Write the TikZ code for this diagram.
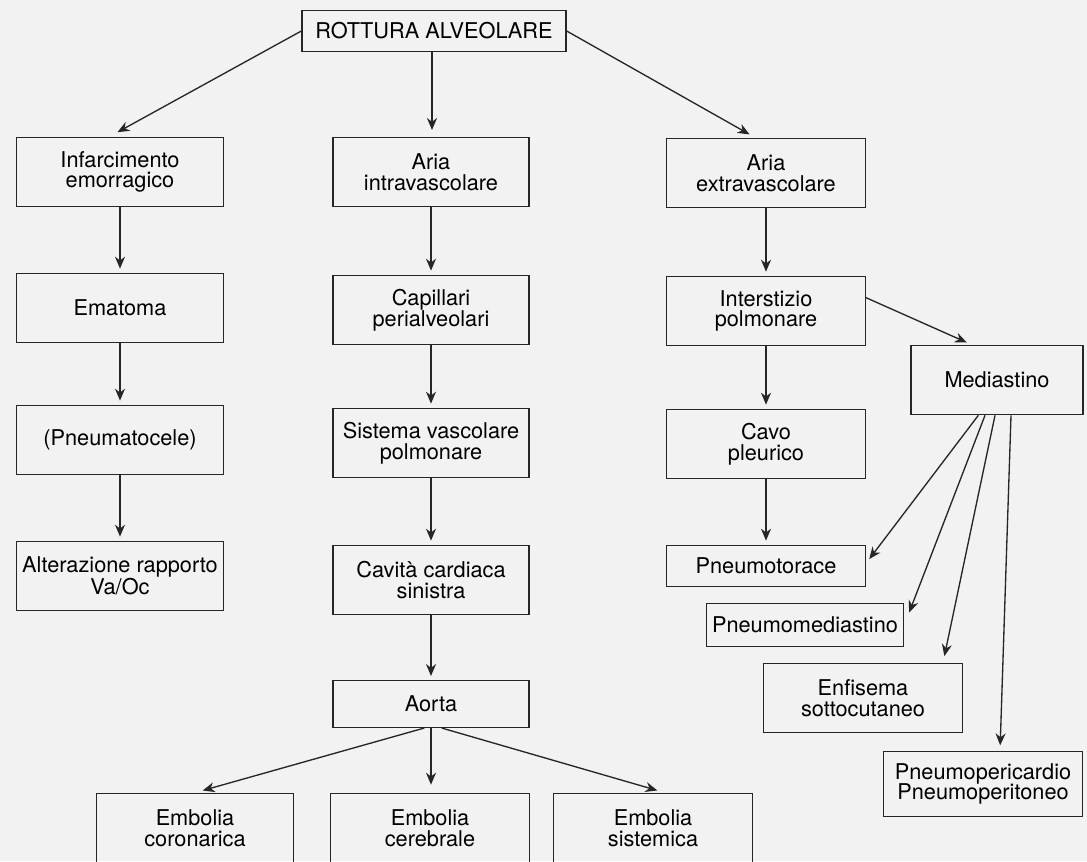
\documentclass[tikz,border=0pt]{standalone}
\usepackage{fontspec}
\setmainfont{TeX Gyre Heros}
\usetikzlibrary{arrows.meta,positioning}

\tikzset{
	box/.style={draw=black!85, line width=1pt, align=center, inner sep=2pt,
		minimum width=147pt, minimum height=52pt, font=\fontsize{16.3}{15.5}\selectfont},
	link/.style={draw=black!85, line width=1pt, -{Stealth[length=9pt,width=7.5pt]}, shorten >=3pt}
}

\begin{document}
\begin{tikzpicture}[x=0.75pt, y=-0.75pt]
	\fill[black!5] (0,0) rectangle (1087,861);
	\useasboundingbox (0,0) rectangle (1087,861);

	\node[box, minimum width=198pt, minimum height=31pt] (rott) at (434,31) {ROTTURA ALVEOLARE};

	% left column
	\node[box, minimum width=155pt] (infarc) at (120,172) {Infarcimento\\emorragico};
	\node[box, minimum width=155pt] (emat) at (120,308) {Ematoma};
	\node[box, minimum width=155pt] (pneumatoc) at (120,440) {(Pneumatocele)};
	\node[box, minimum width=155pt] (alter) at (120,576) {Alterazione rapporto\\Va/Oc};

	% middle column
	\node[box] (intra) at (431,172) {Aria\\intravascolare};
	\node[box] (capill) at (431,310) {Capillari\\perialveolari};
	\node[box] (sistema) at (431,443) {Sistema vascolare\\polmonare};
	\node[box] (cavita) at (431,580) {Cavità cardiaca\\sinistra};
	\node[box, minimum height=35pt] (aorta) at (431,704) {Aorta};
	\node[box, minimum width=148pt] (emb1) at (195,828) {Embolia\\coronarica};
	\node[box, minimum width=149pt] (emb2) at (430,828) {Embolia\\cerebrale};
	\node[box, minimum width=149pt] (emb3) at (653,828) {Embolia\\sistemica};

	% right column
	\node[box, minimum width=149pt] (extra) at (766,173) {Aria\\extravascolare};
	\node[box, minimum width=149pt] (interst) at (766,311) {Interstizio\\polmonare};
	\node[box, minimum width=149pt] (cavo) at (766,444) {Cavo\\pleurico};
	\node[box, minimum width=149pt, minimum height=31pt] (ptorace) at (766,566) {Pneumotorace};
	\node[box, minimum width=129pt] (medi) at (997,380) {Mediastino};
	\node[box, minimum width=148pt, minimum height=32pt] (pmedia) at (805,625) {Pneumomediastino};
	\node[box, minimum width=149pt] (enfis) at (863,698) {Enfisema\\sottocutaneo};
	\node[box, minimum width=149pt, minimum height=49pt] (pperi) at (983,784) {Pneumopericardio\\Pneumoperitoneo};

	% from the top box
	\draw[link, shorten >=7pt] (rott.west) -- ([xshift=-8pt]infarc.north);
	\draw[link, shorten >=5pt] ([xshift=-1.5pt]rott.south) -- ([xshift=-1.5pt]rott.south |- intra.north);
	\draw[link, shorten >=5pt] (rott.east) -- ([xshift=-8pt]extra.north);

	% down the columns
	\draw[link] (infarc) -- (emat);
	\draw[link] (emat) -- (pneumatoc);
	\draw[link] (pneumatoc) -- (alter);
	\draw[link] (intra) -- (capill);
	\draw[link] (capill) -- (sistema);
	\draw[link] (sistema) -- (cavita);
	\draw[link] (cavita) -- (aorta);
	\draw[link] (extra) -- (interst);
	\draw[link] (interst) -- (cavo);
	\draw[link] (cavo) -- (ptorace);

	% Aorta to the three emboli
	\draw[link, shorten >=6pt] ([xshift=-5pt]aorta.south) -- (emb1.north);
	\draw[link, shorten >=6pt] (aorta.south) -- (aorta.south |- emb2.north);
	\draw[link, shorten >=6pt] ([xshift=8pt]aorta.south) -- ([xshift=9pt]emb3.north);

	% Mediastino and its branches
	\draw[link, shorten >=4pt] ([yshift=10pt]interst.east) -- ([xshift=-19pt]medi.north);
	\draw[link, shorten >=4pt] ([xshift=-14pt]medi.south) -- ([yshift=2pt]ptorace.east);
	\draw[link, shorten >=10pt] ([xshift=-9pt]medi.south) -- (pmedia.east);
	\draw[link, shorten >=5pt] ([xshift=-1.5pt]medi.south) -- ([xshift=60pt]enfis.north);
	\draw[link, shorten >=4pt] ([xshift=10.5pt]medi.south) -- ([xshift=12.75pt]pperi.north);
\end{tikzpicture}
\end{document}
